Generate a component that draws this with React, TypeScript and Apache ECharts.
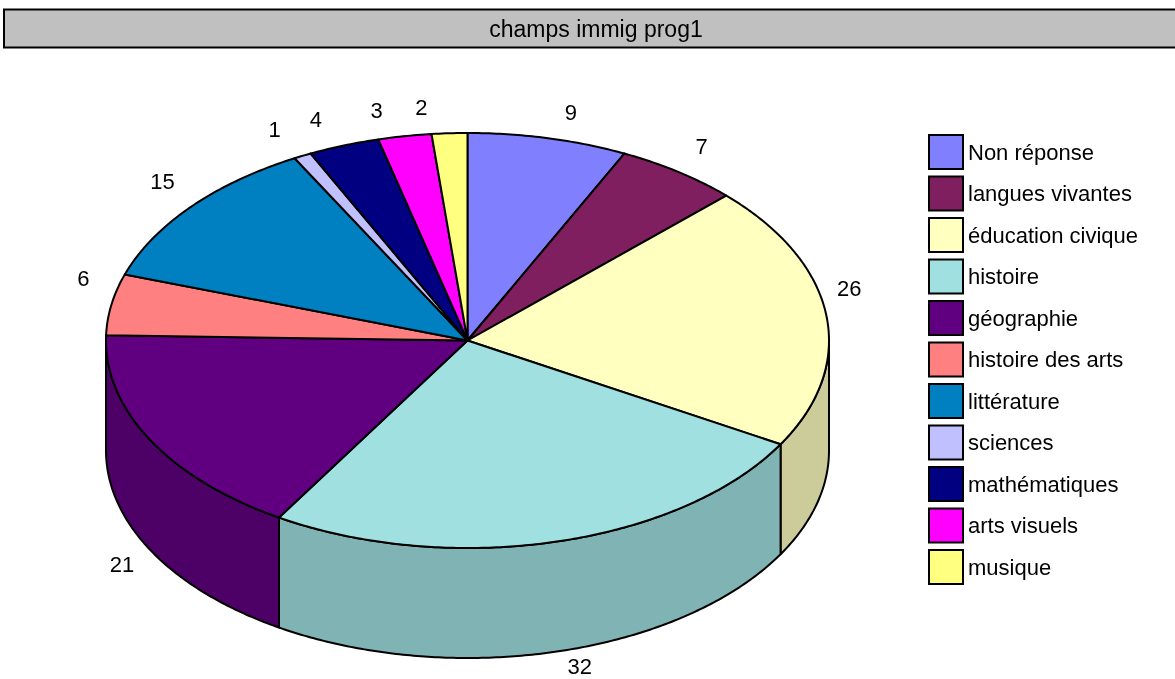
import React, { useEffect, useRef } from "react";
import * as echarts from "echarts";

const categories = [
  "Non réponse",
  "langues vivantes",
  "éducation civique",
  "histoire",
  "géographie",
  "histoire des arts",
  "littérature",
  "sciences",
  "mathématiques",
  "arts visuels",
  "musique",
];
const values = [9, 7, 26, 32, 21, 6, 15, 1, 4, 3, 2];
const colors = [
  "#8080ff",
  "#7f1f5f",
  "#ffffc0",
  "#a0e0e0",
  "#600080",
  "#ff8080",
  "#0080c0",
  "#c0c0ff",
  "#000080",
  "#ff00ff",
  "#ffff80",
];
const titleText = "champs immig prog1";

const FONT = "Liberation Sans, Arial, sans-serif";

function darken(hex: string, f: number) {
  const n = parseInt(hex.slice(1), 16);
  const r = Math.round(((n >> 16) & 255) * f);
  const g = Math.round(((n >> 8) & 255) * f);
  const b = Math.round((n & 255) * f);
  return `rgb(${r},${g},${b})`;
}

export default function App() {
  const ref = useRef<HTMLDivElement>(null);

  useEffect(() => {
    if (!ref.current) return;
    const chart = echarts.init(ref.current, undefined, { renderer: "svg" });

    const total = values.reduce((a, b) => a + b, 0);
    const starts: number[] = [];
    let acc = 0;
    values.forEach((v) => {
      starts.push(acc);
      acc += v;
    });

    const cx = 467.5;
    const cy = 340.5;
    const rx = 361.5;
    const ry = 207.5;
    const depth = 110;

    const pt = (t: number, z: number) => [
      cx + rx * Math.sin(t),
      cy - ry * Math.cos(t) + z,
    ];
    const arc = (a: number, b: number, z: number) => {
      const n = Math.max(2, Math.ceil((b - a) / 0.01));
      const out: number[][] = [];
      for (let i = 0; i <= n; i++) out.push(pt(a + ((b - a) * i) / n, z));
      return out;
    };

    const makeRender = (idx: number) => (params: any, api: any) => {
      const v = api.value(0) as number;
      const s = api.value(1) as number;
      const t0 = (s / total) * Math.PI * 2;
      const t1 = ((s + v) / total) * Math.PI * 2;
      const children: any[] = [];
      const a = Math.max(t0, Math.PI / 2);
      const b = Math.min(t1, (Math.PI * 3) / 2);
      if (a < b) {
        const top = arc(a, b, 0);
        const bottom = arc(a, b, depth).reverse();
        children.push({
          type: "polygon",
          shape: { points: top.concat(bottom) },
          style: {
            fill: darken(colors[idx], 0.8),
            stroke: "#000",
            lineWidth: 2,
            lineJoin: "round",
          },
        });
      }
      const face = [[cx, cy]].concat(arc(t0, t1, 0));
      children.push({
        type: "polygon",
        shape: { points: face },
        style: {
          fill: colors[idx],
          stroke: "#000",
          lineWidth: 2,
          lineJoin: "round",
        },
      });
      const mid = (t0 + t1) / 2;
      const lower = Math.cos(mid) < 0;
      const p = pt(mid, lower ? depth : 0);
      const lx = p[0] + (Math.sin(mid) >= 0 ? 23 : -28);
      const ly = p[1] + (lower ? 15 : -26);
      children.push({
        type: "text",
        style: {
          text: String(v),
          x: lx,
          y: ly,
          fill: "#000",
          fontSize: 22,
          fontFamily: FONT,
          align: "center",
          verticalAlign: "middle",
        },
      });
      return { type: "group", children };
    };

    const series = categories.map((name, i) => ({
      type: "custom",
      name,
      coordinateSystem: "none",
      silent: true,
      itemStyle: { color: colors[i], borderColor: "#000", borderWidth: 2 },
      data: [[values[i], starts[i]]],
      renderItem: makeRender(i),
    }));

    chart.setOption({
      animation: false,
      color: colors,
      legend: {
        orient: "vertical",
        left: 928,
        top: 134,
        padding: 0,
        itemWidth: 34,
        itemHeight: 34,
        itemGap: 5.5,
        icon: "rect",
        selectedMode: false,
        itemStyle: { borderColor: "#000", borderWidth: 2 },
        textStyle: {
          fontSize: 22,
          lineHeight: 26,
          fontFamily: FONT,
          color: "#000",
        },
        data: categories,
      },
      graphic: [
        {
          type: "rect",
          shape: { x: 4, y: 9.5, width: 1185, height: 38 },
          style: { fill: "#c0c0c0", stroke: "#000", lineWidth: 2 },
        },
        {
          type: "text",
          style: {
            text: titleText,
            x: 596,
            y: 29,
            fill: "#000",
            fontSize: 23,
            fontFamily: FONT,
            align: "center",
            verticalAlign: "middle",
          },
        },
      ],
      series,
    });

    return () => chart.dispose();
  }, []);

  return (
    <div
      ref={ref}
      style={{ position: "fixed", left: 0, top: 0, width: 1175, height: 679 }}
    />
  );
}
